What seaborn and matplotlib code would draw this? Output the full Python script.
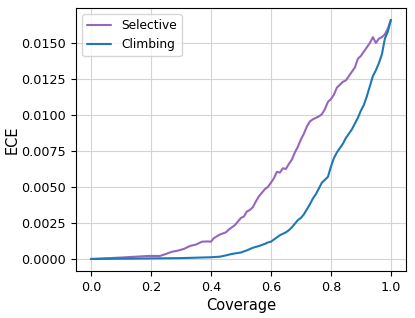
import pandas as pd
import numpy as np
import matplotlib
matplotlib.use("Agg")
import matplotlib.pyplot as plt
import seaborn as sns

# values (ECE in units of 1e-3)
sel_cov = [0.0, 0.05, 0.1, 0.15, 0.19, 0.23, 0.25, 0.27, 0.29, 0.31, 0.33, 0.35, 0.37, 0.39, 0.40,
           0.41, 0.43, 0.45, 0.46, 0.48, 0.49, 0.50, 0.51, 0.52, 0.53, 0.54, 0.55, 0.56, 0.57, 0.58,
           0.59, 0.60, 0.61, 0.62, 0.63, 0.64, 0.65, 0.66, 0.67, 0.68, 0.69, 0.70, 0.71, 0.72, 0.73,
           0.74, 0.75, 0.76, 0.77, 0.78, 0.79, 0.80, 0.81, 0.82, 0.83, 0.84, 0.85, 0.86, 0.87, 0.88,
           0.89, 0.90, 0.91, 0.92, 0.93, 0.94, 0.95, 0.96, 0.97, 0.98, 0.99, 1.0]
sel_ece = [0.0, 0.05, 0.1, 0.16, 0.21, 0.21, 0.35, 0.5, 0.58, 0.7, 0.9, 1.0, 1.2, 1.22, 1.2,
           1.45, 1.7, 1.85, 2.05, 2.35, 2.6, 2.85, 2.95, 3.3, 3.4, 3.6, 4.0, 4.35, 4.6, 4.85,
           5.0, 5.3, 5.6, 6.05, 6.0, 6.3, 6.25, 6.6, 6.9, 7.4, 7.8, 8.3, 8.7, 9.2, 9.55,
           9.7, 9.8, 9.9, 10.05, 10.4, 10.9, 11.1, 11.4, 11.9, 12.1, 12.3, 12.4, 12.7, 13.0, 13.3,
           13.9, 14.1, 14.4, 14.7, 15.0, 15.4, 15.0, 15.3, 15.4, 15.6, 16.0, 16.6]

clm_cov = [0.0, 0.1, 0.2, 0.3, 0.4, 0.43, 0.45, 0.47, 0.50, 0.52, 0.54, 0.56, 0.58, 0.59, 0.60,
           0.61, 0.62, 0.63, 0.64, 0.65, 0.66, 0.67, 0.68, 0.69, 0.70, 0.71, 0.72, 0.73, 0.74, 0.75,
           0.76, 0.77, 0.78, 0.79, 0.80, 0.81, 0.82, 0.83, 0.84, 0.85, 0.86, 0.87, 0.88, 0.89, 0.90,
           0.91, 0.92, 0.93, 0.94, 0.95, 0.96, 0.97, 0.98, 0.99, 1.0]
clm_ece = [0.0, 0.02, 0.04, 0.06, 0.12, 0.16, 0.25, 0.35, 0.45, 0.6, 0.78, 0.9, 1.05, 1.15, 1.2,
           1.35, 1.5, 1.65, 1.75, 1.85, 2.0, 2.2, 2.45, 2.7, 2.85, 3.1, 3.45, 3.8, 4.2, 4.5,
           4.9, 5.3, 5.5, 5.7, 6.4, 7.0, 7.4, 7.7, 8.0, 8.4, 8.7, 9.0, 9.4, 9.8, 10.3,
           10.7, 11.3, 12.0, 12.7, 13.1, 13.6, 14.2, 15.3, 15.8, 16.6]

df = pd.concat([
    pd.DataFrame({"Coverage": sel_cov, "ECE": np.array(sel_ece) * 1e-3, "method": "Selective"}),
    pd.DataFrame({"Coverage": clm_cov, "ECE": np.array(clm_ece) * 1e-3, "method": "Climbing"}),
], ignore_index=True)

sns.set_style("ticks", {"text.color": "black", "axes.labelcolor": "black",
                        "xtick.color": "black", "ytick.color": "black"})
plt.rcParams['font.family'] = ['DejaVu Sans']

fig = plt.figure(figsize=(4.15, 3.18), dpi=100)
ax = fig.add_axes([0.183, 0.148, 0.795, 0.827])
sns.lineplot(data=df, x="Coverage", y="ECE", hue="method", sort=False,
             palette={"Selective": "tab:purple", "Climbing": "tab:blue"}, linewidth=1.5, ax=ax)
ax.grid(True, color="#d4d4d4", linewidth=0.8)
ax.set_xticks([0.0, 0.2, 0.4, 0.6, 0.8, 1.0])
ax.set_yticks([0.0, 0.0025, 0.005, 0.0075, 0.01, 0.0125, 0.015])
ax.yaxis.set_major_formatter(matplotlib.ticker.FormatStrFormatter('%.4f'))
ax.tick_params(labelsize=9.2, length=3.5, color="black", labelcolor="black")
ax.set_xlabel("Coverage", fontsize=10.5, labelpad=3, color="black")
ax.set_ylabel("ECE", fontsize=10.5, labelpad=1, color="black")
for s in ax.spines.values():
    s.set_color("black")
leg = ax.legend(title=None, loc="upper left", fontsize=8.8)
for t in leg.get_texts():
    t.set_color("black")
fig.savefig("out.png", dpi=100)
